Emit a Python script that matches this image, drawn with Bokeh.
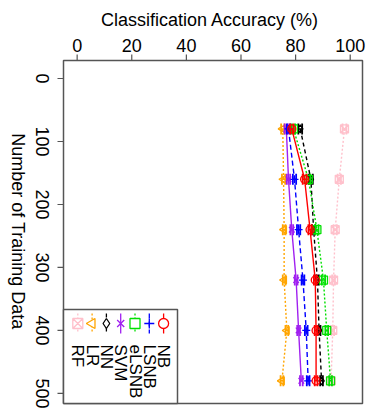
import math
from bokeh.plotting import figure
from bokeh.models import Range1d, Label, ColumnDataSource
from bokeh.embed import file_html
from bokeh.resources import INLINE

# ---------------- data ----------------
n_train = [80, 160, 240, 320, 400, 480]
acc_NB = [78.6, 83.3, 85.3, 87.2, 87.5, 87.5]
acc_LSNB = [77.4, 79.6, 81.1, 82.7, 83.9, 84.6]
acc_eLSNB = [79.2, 84.7, 87.8, 90.2, 91.4, 92.8]
acc_SVM = [76.6, 77.4, 78.6, 80.2, 81.1, 82.1]
acc_NN = [81.7, 85.6, 86.6, 88.0, 88.6, 89.5]
acc_LR = [75.3, 75.6, 75.8, 75.8, 76.8, 75.0]
acc_RF = [97.9, 96.0, 94.5, 93.9, 93.6, 93.0]
err_NB = [0.6, 0.7, 0.6, 0.5, 0.5, 0.5]
err_LSNB = [0.6, 0.6, 0.6, 0.5, 0.5, 0.5]
err_eLSNB = [0.6, 0.7, 0.6, 0.6, 0.5, 0.5]
err_SVM = [0.6, 0.6, 0.5, 0.5, 0.5, 0.5]
err_NN = [0.7, 0.7, 0.6, 0.5, 0.5, 0.5]
err_LR = [0.6, 0.6, 0.5, 0.5, 0.5, 0.5]
err_RF = [0.7, 0.6, 0.6, 0.5, 0.5, 0.5]
x_ticks = [0, 20, 40, 60, 80, 100]
y_ticks = [0, 100, 200, 300, 400, 500]
x_title = "Classification Accuracy  (%)"
y_title = "Number of Training Data"
legend_order = ["RF", "LR", "NN", "SVM", "eLSNB", "LSNB", "NB"]

series = {
    "NB": (acc_NB, err_NB),
    "LSNB": (acc_LSNB, err_LSNB),
    "eLSNB": (acc_eLSNB, err_eLSNB),
    "SVM": (acc_SVM, err_SVM),
    "NN": (acc_NN, err_NN),
    "LR": (acc_LR, err_LR),
    "RF": (acc_RF, err_RF),
}

# ---------------- styles ----------------
style = {
    "NB": dict(color="#FF0000", dash="solid", marker="circle", angle=0.0),
    "LSNB": dict(color="#0000FF", dash="5 3", marker="cross", angle=0.0),
    "eLSNB": dict(color="#00E000", dash="2 2", marker="square", angle=0.0),
    "SVM": dict(color="#A020F0", dash="solid", marker="x", angle=0.0),
    "NN": dict(color="#000000", dash="4 3", marker="diamond", angle=0.0),
    "LR": dict(color="#FFA500", dash="2 2", marker="triangle", angle=math.pi / 2),
    "RF": dict(color="#FFC0CB", dash="2 2", marker="square_x", angle=0.0),
}
FONT = "Liberation Sans"
BOX = "#555555"

# canvas geometry (pixels) and the plot box inside it
W, H = 366, 408
BOX_L, BOX_R, BOX_T, BOX_B = 63, 362, 60, 403
# data values at the plot box edges
X0, X1 = -5.0, 104.5
Y_TOP, Y_BOTTOM = -28.6, 516.0


def dx(px):  # canvas pixel x -> data x
    return X0 + (X1 - X0) * (px - BOX_L) / (BOX_R - BOX_L)


def dy(py):  # canvas pixel y (from top) -> data y
    return Y_TOP + (Y_BOTTOM - Y_TOP) * (py - BOX_T) / (BOX_B - BOX_T)


p = figure(width=W, height=H, output_backend="svg", toolbar_location=None,
           x_range=Range1d(dx(0), dx(W)), y_range=Range1d(dy(H), dy(0)),
           x_axis_location=None, y_axis_location=None,
           min_border=0, min_border_left=0, min_border_right=0,
           min_border_top=0, min_border_bottom=0)
p.xgrid.visible = False
p.ygrid.visible = False
p.outline_line_color = None
p.background_fill_color = "white"
p.border_fill_color = "white"

# plot box
p.quad(left=[X0], right=[X1], top=[Y_TOP], bottom=[Y_BOTTOM],
       fill_color=None, line_color=BOX, line_width=1.5)

# x axis (top): ticks + labels
p.segment(x0=x_ticks, y0=[dy(BOX_T - 6)] * len(x_ticks), x1=x_ticks,
          y1=[Y_TOP] * len(x_ticks), line_color=BOX, line_width=1.2)
for t in x_ticks:
    p.add_layout(Label(x=t, y=dy(45), text=str(t), text_font=FONT,
                       text_font_size="18px", text_align="center",
                       text_baseline="middle", text_color="black"))
# y axis (left): ticks + rotated labels
p.segment(x0=[dx(BOX_L - 6)] * len(y_ticks), y0=y_ticks, x1=[X0] * len(y_ticks),
          y1=y_ticks, line_color=BOX, line_width=1.2)
for t in y_ticks:
    p.add_layout(Label(x=dx(42), y=t, text=str(t), text_font=FONT,
                       text_font_size="18px", text_align="center",
                       text_baseline="middle", angle=-math.pi / 2,
                       text_color="black"))

# axis titles
p.add_layout(Label(x=dx(212), y=dy(19), text=x_title,
                   text_font=FONT, text_font_size="18px", text_align="center",
                   text_baseline="middle", text_color="black"))
p.add_layout(Label(x=dx(17.5), y=dy(231), text=y_title,
                   text_font=FONT, text_font_size="18px", text_align="center",
                   text_baseline="middle", angle=-math.pi / 2, text_color="black"))

# series
draw_order = ["RF", "LR", "NN", "SVM", "eLSNB", "LSNB", "NB"]
for name in draw_order:
    acc, err = series[name]
    st = style[name]
    lo = [a - e for a, e in zip(acc, err)]
    hi = [a + e for a, e in zip(acc, err)]
    src = ColumnDataSource(dict(x=acc, y=n_train, lo=lo, hi=hi))
    p.line("x", "y", source=src, line_color=st["color"], line_dash=st["dash"],
           line_width=1.4)
    p.segment(x0="lo", y0="y", x1="hi", y1="y", source=src,
              line_color=st["color"], line_width=1.5)
    p.scatter("lo", "y", source=src, marker="dash", angle=math.pi / 2, size=11,
              line_color=st["color"], line_width=1.8)
    p.scatter("hi", "y", source=src, marker="dash", angle=math.pi / 2, size=11,
              line_color=st["color"], line_width=1.8)
    p.scatter("x", "y", source=src, marker=st["marker"], angle=st["angle"],
              size=8, line_color=st["color"], fill_color=None, line_width=1.3)

# legend box (drawn manually: rotated texts)
p.quad(left=[X0], right=[dx(177)], top=[dy(309)], bottom=[Y_BOTTOM],
       fill_color="white", line_color=BOX, line_width=1.5)
for i, name in enumerate(legend_order):
    st = style[name]
    xc = dx(77.3 + 14.3 * i)
    p.segment(x0=[xc], y0=[dy(313)], x1=[xc], y1=[dy(333)],
              line_color=st["color"], line_dash=st["dash"], line_width=1.3)
    p.scatter([xc], [dy(323)], marker=st["marker"], angle=st["angle"], size=10,
              line_color=st["color"], fill_color="white", line_width=1.3)
    p.add_layout(Label(x=xc, y=dy(344), text=name, text_font=FONT,
                       text_font_size="17px", text_align="left",
                       text_baseline="middle", angle=-math.pi / 2,
                       text_color="black"))

open("out.html", "w").write(file_html(p, INLINE))
